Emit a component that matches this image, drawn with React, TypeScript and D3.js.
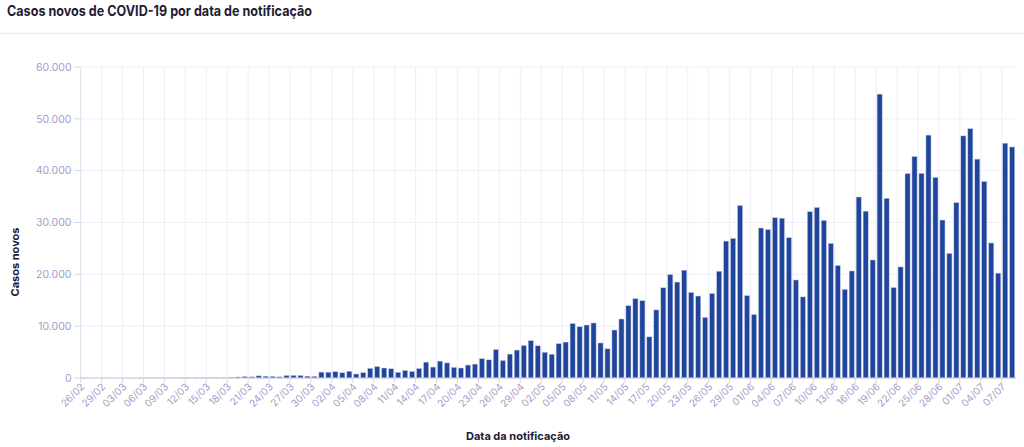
import React from "react";
import * as d3 from "d3";

const START_DATE = new Date(2020, 1, 26);
const END_DATE = new Date(2020, 6, 9); // exclusive

const cases: number[] = [
  // Feb 26-29
  1, 0, 0, 1,
  // Mar
  0, 0, 0, 1, 4, 6, 6, 6, 5, 6, 18, 25, 21, 23, 79, 34, 57, 137, 193, 283, 224, 418, 345, 310, 232, 482, 502, 487, 352, 323, 1138,
  // Apr
  1119, 1208, 1012, 1304, 770, 1031, 1873, 2210, 1930, 1781, 1089, 1442, 1261, 1832, 3058, 2105, 3257, 2917, 2055, 1927, 2498, 2678, 3735, 3503, 5514, 3379, 4613, 5385, 6276, 7218,
  // May
  6209, 4970, 4588, 6633, 6935, 10503, 9888, 10222, 10611, 6760, 5632, 9258, 11385, 13944, 15305, 14919, 7938, 13140, 17408, 19951, 18508, 20803, 16508, 15813, 11687, 16324, 20599, 26417, 26928, 33274, 15900,
  // Jun
  12247, 28936, 28633, 30925, 30830, 27075, 18912, 15654, 32091, 32913, 30412, 25982, 21704, 17110, 20647, 34918, 32188, 22765, 54771, 34666, 17459, 21432, 39436, 42725, 39483, 46860, 38693, 30476, 24052, 33846,
  // Jul
  46712, 48105, 42223, 37923, 26051, 20229, 45305, 44571,
];

const yTicks: number[] = [0, 10000, 20000, 30000, 40000, 50000, 60000];
const TICK_EVERY = 3;

const TITLE = "Casos novos de COVID-19 por data de notificação";
const X_TITLE = "Data da notificação";
const Y_TITLE = "Casos novos";

const FONT = "Inter, 'Noto Sans', sans-serif";
const LAVENDER = "#a49cc8";
const GRID = "#efedf8";

export default function App() {
  const W = 1024;
  const H = 447;
  const left = 80.7;
  const right = 1015.7;
  const top = 67;
  const bottom = 378;

  const dates = d3.timeDay.range(START_DATE, END_DATE);
  const fmt = d3.timeFormat("%d/%m");
  const labels = dates.map((d) => fmt(d));

  const x = d3
    .scaleBand<string>()
    .domain(labels)
    .range([left, right])
    .paddingInner(0.27)
    .paddingOuter(0.135);
  const y = d3.scaleLinear().domain([0, 60000]).range([bottom, top]);

  const locale = d3.formatLocale({
    decimal: ",",
    thousands: ".",
    grouping: [3],
    currency: ["", ""],
  });
  const yFmt = locale.format(",");

  const step = x.step();
  const tickX = (lab: string) => (x(lab) as number) - (step - x.bandwidth()) / 2;
  const tickLabels = labels.filter((_, i) => i % TICK_EVERY === 0);

  return (
    <svg
      width={W}
      height={H}
      style={{ position: "absolute", left: 0, top: 0, background: "#fff" }}
      fontFamily={FONT}
    >
      <text
        x={7}
        y={15.5}
        fontSize={14}
        fontWeight={700}
        fill="#1f1c33"
        textLength={305}
        lengthAdjust="spacingAndGlyphs"
      >
        {TITLE}
      </text>
      <line x1={0} x2={W} y1={33.5} y2={33.5} stroke={GRID} strokeWidth={1.5} />

      {/* horizontal grid */}
      {yTicks.map((t) => (
        <line
          key={"hg" + t}
          x1={left}
          x2={1016}
          y1={y(t)}
          y2={y(t)}
          stroke={GRID}
          strokeWidth={1}
        />
      ))}
      {/* vertical grid */}
      {tickLabels.map((lab) => (
        <line
          key={"vg" + lab}
          x1={tickX(lab)}
          x2={tickX(lab)}
          y1={top}
          y2={bottom}
          stroke={GRID}
          strokeWidth={1}
        />
      ))}
      {/* y axis line */}
      <line x1={left} x2={left} y1={top} y2={bottom} stroke="#e3e0f2" strokeWidth={1} />

      {/* bars */}
      {labels.map((lab, i) => {
        const v = cases[i];
        const y0 = y(v);
        return (
          <rect
            key={"b" + lab}
            x={x(lab)}
            y={y0}
            width={x.bandwidth()}
            height={Math.max(0, bottom - y0)}
            fill="#1f469b"
            stroke="#c9cce8"
            strokeWidth={0.5}
          />
        );
      })}

      {/* x axis line */}
      <line x1={left} x2={1016} y1={bottom} y2={bottom} stroke="#c9c5da" strokeWidth={1} />

      {/* y ticks */}
      {yTicks.map((t) => (
        <g key={"yt" + t}>
          <line x1={74} x2={left} y1={y(t)} y2={y(t)} stroke="#d8d4ea" />
          <text
            x={71.5}
            y={y(t)}
            dy="0.35em"
            textAnchor="end"
            fontSize={10.5}
            fill={LAVENDER}
          >
            {yFmt(t)}
          </text>
        </g>
      ))}

      {/* x ticks */}
      {tickLabels.map((lab) => {
        const tx = tickX(lab);
        return (
          <g key={"xt" + lab}>
            <line x1={tx} x2={tx} y1={bottom} y2={bottom + 5} stroke="#d8d4ea" />
            <text
              transform={`translate(${tx + 2},${bottom + 7}) rotate(-45)`}
              textAnchor="end"
              dy="0.35em"
              fontSize={10}
              fill={LAVENDER}
            >
              {lab}
            </text>
          </g>
        );
      })}

      {/* axis titles */}
      <text x={518} y={440} textAnchor="middle" fontSize={11} fontWeight={700} fill="#1f1c33">
        {X_TITLE}
      </text>
      <text
        transform={`translate(19,262) rotate(-90)`}
        textAnchor="middle"
        fontSize={11}
        fontWeight={700}
        fill="#1f1c33"
      >
        {Y_TITLE}
      </text>
    </svg>
  );
}
